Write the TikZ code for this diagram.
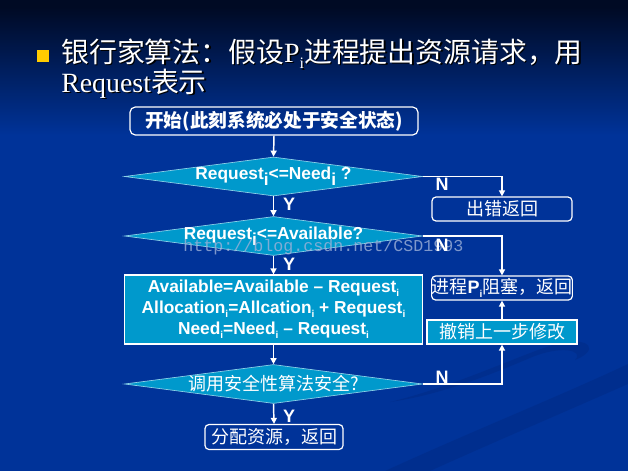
\documentclass[tikz,border=0pt]{standalone}
\usepackage{fontspec}
\setmainfont{Liberation Serif}
\newfontfamily\cjk{Noto Sans CJK SC}
\newfontfamily\arial{Liberation Sans}
\newfontfamily\wmfont{Liberation Mono}
\usetikzlibrary{shapes.geometric,arrows.meta}

\definecolor{slidebg}{HTML}{003399}
\definecolor{slidetop}{HTML}{000A24}
\definecolor{flowfill}{HTML}{0099CC}
\definecolor{bulletyellow}{HTML}{FFCC00}
\definecolor{swooshc}{HTML}{002C88}

% subscripts: small one for formulas, large lowered one for the tests
\newcommand\smallsub[1]{\raisebox{-0.25em}{\fontsize{7.5}{7.5}\selectfont #1}}
\newcommand\bigsub[1]{\raisebox{-0.35em}{#1}}
\newcommand\titleone{{\cjk 银行家算法：假设}P\raisebox{-0.25em}{\fontsize{12}{12}\selectfont i}{\cjk 进程提出资源请求，用}}
\newcommand\titletwo{Request{\cjk 表示}}

\begin{document}
\begin{tikzpicture}[x=0.75pt,y=-0.75pt,
  flowline/.style={draw=white,line width=1.1pt},
  arr/.style={flowline,-{Triangle[length=4.5pt,width=4.5pt]}},
  latinfont/.style={font=\arial\bfseries\fontsize{13}{15.75}\selectfont},
  cjkfont/.style={font=\cjk\fontsize{13.5}{16}\selectfont},
  headfont/.style={font=\fontsize{20.9}{20.9}\selectfont},
  startbox/.style={draw=white,line width=0.9pt,rounded corners=4pt,
    minimum width=216pt,minimum height=21pt,inner sep=0pt,text=white,
    font=\cjk\bfseries\fontsize{14}{16}\selectfont},
  testbox/.style={diamond,aspect=7.6,fill=flowfill,draw=white!55!flowfill,
    line width=0.5pt,inner sep=0pt,minimum width=223.5pt,minimum height=29.25pt,
    text=white},
  calcbox/.style={rectangle,fill=flowfill,draw=white,line width=0.9pt,
    minimum width=224pt,minimum height=51.75pt,inner sep=0pt,text=white,
    align=center,latinfont},
  endbox/.style={draw=white,line width=0.9pt,rounded corners=3pt,
    minimum height=18pt,inner sep=0pt,text=white,cjkfont},
  undobox/.style={rectangle,fill=flowfill,draw=white,line width=0.9pt,
    minimum width=112.5pt,minimum height=18pt,inner sep=0pt,text=white,cjkfont},
  yn/.style={text=white,inner sep=0pt,font=\arial\bfseries\fontsize{13.5}{13.5}\selectfont},
  swoosh/.style={fill=swooshc,opacity=0.6}]

\useasboundingbox (0,0) rectangle (628,471);

% slide background
\fill[slidebg] (0,0) rectangle (628,471);
\fill[slidetop] (0,0) rectangle (628,7);
\shade[top color=slidetop,bottom color=slidebg] (0,7) rectangle (628,135);
\fill[swoosh] (385,471) .. controls (470,432) and (560,396) .. (628,364)
  -- (628,384) .. controls (560,414) and (485,446) .. (430,471) -- cycle;
\fill[swoosh] (390,402) .. controls (460,385) and (530,350) .. (560,343)
  .. controls (590,337) and (600,350) .. (575,360)
  .. controls (585,350) and (560,345) .. (530,358)
  .. controls (490,375) and (440,395) .. cycle;

% heading
\fill[bulletyellow] (37,50) rectangle (49,62);
\node[anchor=base west,inner sep=0pt,text=black,headfont] at (62.5,63.5) {\titleone};
\node[anchor=base west,inner sep=0pt,text=black,headfont] at (62.5,93.5) {\titletwo};
\node[anchor=base west,inner sep=0pt,text=white,headfont] (head1) at (61,62) {\titleone};
\node[anchor=base west,inner sep=0pt,text=white,headfont] (head2) at (61,92) {\titletwo};

% main column
\node[startbox] (start) at (274,121) {开始(此刻系统必处于安全状态)};
\node[testbox] (need) at (273.5,176.5) {\makebox[0pt]{\arial\bfseries\fontsize{13}{13}\selectfont
  Request\bigsub{i}<=Need\bigsub{i} ?}};
\node[testbox] (avail) at (273.5,236) {\makebox[0pt]{\arial\bfseries\fontsize{13}{13}\selectfont
  Request\bigsub{i}<=Available?}};
\node[calcbox] (update) at (273.5,309.5) {%
  Available=Available – Request\smallsub{i}\\
  Allocation\smallsub{i}=Allcation\smallsub{i} + Request\smallsub{i}\\
  Need\smallsub{i}=Need\smallsub{i} – Request\smallsub{i}};
\node[testbox] (safe) at (273.5,384) {\makebox[0pt]{\cjk\fontsize{13.5}{13.5}\selectfont
  调用安全性算法安全?}};
\node[endbox,minimum width=103.5pt,minimum height=18.75pt] (grant) at (274,437) {分配资源，返回};

% right column
\node[endbox,minimum width=105pt] (error) at (502,209) {出错返回};
\node[endbox,minimum width=105pt] (block) at (502,288) {进程{\arial\bfseries P}\smallsub{\arial\bfseries i}阻塞，返回};
\node[undobox] (undo) at (502,332) {撤销上一步修改};

% connectors
\draw[arr] (start.south) -- (need.north);
\draw[arr] (need.south) -- (avail.north);
\draw[arr] (avail.south) -- (update.north);
\draw[arr] (update.south) -- (safe.north);
\draw[arr] (safe.south) -- (grant.north);
\draw[arr] (need.east) -| (error.north);
\draw[arr] (avail.east) -| (block.north);
\draw[arr] (safe.east) -| (undo.south);
\draw[arr] (undo.north) -- (block.south);

% branch labels
\node[yn] (y1) at (289,204) {Y};
\node[yn] (y2) at (289,264) {Y};
\node[yn] (y3) at (289,416) {Y};
\node[yn] (n1) at (442,184) {N};
\node[yn] (n3) at (442,377) {N};

% site mark
\node[anchor=base west,inner sep=0pt,text=white!62!slidebg,opacity=0.8,
  font=\wmfont\fontsize{12.5}{12.5}\selectfont] (mark) at (183,251)
  {http://blog.csdn.net/CSD1993};
\node[yn] (n2) at (442,245) {N};
\end{tikzpicture}
\end{document}
